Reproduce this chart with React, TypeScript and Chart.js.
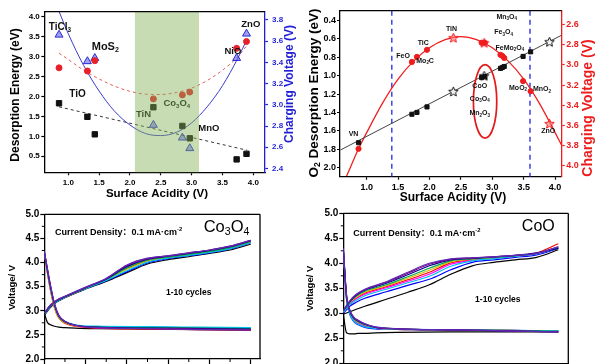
import React, { useEffect, useRef } from 'react';
import { Chart, registerables } from 'chart.js';

Chart.register(...registerables);

const FONT = '"Liberation Sans", Arial, "Noto Sans CJK SC", sans-serif';
Chart.defaults.font.family = FONT;

// ================= Panel A (top-left) =================
const A_ACIDITY = [0.85, 1.31, 1.43, 2.38, 2.85, 2.97, 3.73, 3.89];
const A_DES_BLACK = [1.83, 1.49, 1.05, 1.73, 1.26, 0.95, 0.42, 0.56];
const A_DES_RED = [2.72, 2.64, 2.9, 1.94, 2.04, 2.11, 3.21, 3.38];
const A_CHG_BLUE = [3.66, 3.41, 3.44, 2.81, 2.69, 2.59, 3.44, 3.67];
const A_FIT_X = [0.85, 1.0, 1.25, 1.5, 1.75, 2.0, 2.25, 2.5, 2.75, 3.0, 3.25, 3.5, 3.75, 3.9];
const A_FIT_BLUE = [3.88, 3.67, 3.37, 3.13, 2.94, 2.81, 2.73, 2.71, 2.74, 2.83, 2.98, 3.18, 3.44, 3.62];
const A_FIT_RED = [3.09, 2.93, 2.66, 2.44, 2.26, 2.13, 2.06, 2.05, 2.1, 2.21, 2.4, 2.66, 3.0, 3.29];
const A_LIN_X = [0.85, 3.9];
const A_LIN_BLACK = [1.74, 0.65];
const A_BAND = [2.08, 3.12];
const A_XTICKS = [1.0, 1.5, 2.0, 2.5, 3.0, 3.5, 4.0];
const A_YTICKS = [0.5, 1.0, 1.5, 2.0, 2.5, 3.0, 3.5, 4.0];
const A_Y2TICKS = [2.4, 2.6, 2.8, 3.0, 3.2, 3.4, 3.6, 3.8];
const A_LABEL_TEXT = ['TiCl_3', 'MoS_2', 'TiO', 'TiN', 'Co_3O_4', 'MnO', 'NiO', 'ZnO'];
const A_LABEL_X = [0.865, 1.6, 1.15, 2.22, 2.76, 3.28, 3.67, 3.96];
const A_LABEL_Y = [3.74, 3.25, 2.06, 1.55, 1.83, 1.2, 3.13, 3.8];

// ================= Panel B (top-right) =================
const B_ACIDITY = [0.87, 1.72, 1.8, 1.96, 2.83, 2.88, 3.13, 3.16, 3.19, 3.49, 3.61];
const B_O2_DES = [1.73, 1.42, 1.4, 1.34, 1.02, 1.01, 0.92, 0.91, 0.9, 0.79, 0.74];
const B_CHG_V = [3.83, 2.97, 2.92, 2.85, 2.78, 2.78, 2.9, 2.91, 2.93, 3.16, 3.26];
const B_STAR_X = [2.38, 2.87, 3.91];
const B_STAR_DES = [1.17, 1.0, 0.63];
const B_STAR_CHG = [2.73, 2.78, 3.58];
const B_LIN_X = [0.58, 4.1];
const B_LIN_DES = [1.81, 0.56];
const B_FIT_X = [0.68, 0.75, 0.87, 1.0, 1.25, 1.5, 1.75, 2.0, 2.25, 2.5, 2.75, 3.0, 3.25, 3.5, 3.75, 4.0, 4.1];
const B_FIT_CHG = [4.1, 4.0, 3.83, 3.67, 3.38, 3.14, 2.96, 2.83, 2.75, 2.72, 2.75, 2.83, 2.96, 3.14, 3.38, 3.67, 3.79];
const B_VLINES = [1.4, 3.6];
const B_ELLIPSE = { x: 2.885, y: 1.28, rx: 0.186, ry: 0.4 };
const B_XTICKS = [1.0, 1.5, 2.0, 2.5, 3.0, 3.5, 4.0];
const B_YTICKS = [0.4, 0.6, 0.8, 1.0, 1.2, 1.4, 1.6, 1.8, 2.0];
const B_Y2TICKS = [2.6, 2.8, 3.0, 3.2, 3.4, 3.6, 3.8, 4.0];
const B_LABEL_TEXT = ['TiN', 'TiC', 'FeO', 'Mo_2C', 'VN', 'CoO', 'Co_3O_4', 'Mn_2O_3', 'Mn_3O_4', 'Fe_3O_4', 'FeMo_2O_4', 'MoO_2', 'MnO_2', 'ZnO'];
const B_LABEL_X = [2.35, 1.9, 1.58, 1.93, 0.79, 2.8, 2.8, 2.8, 3.23, 3.18, 3.28, 3.41, 3.79, 3.89];
const B_LABEL_Y = [0.49, 0.64, 0.79, 0.84, 1.64, 1.11, 1.25, 1.41, 0.36, 0.53, 0.7, 1.13, 1.15, 1.6];

// ================= Panels C / D (bottom) =================
const CHG_X = [0, 3, 6, 10, 20, 30, 40, 50, 60, 70, 80, 90, 100];
const DIS_X = [0, 1.5, 3, 5, 7, 10, 15, 25, 50, 75, 100];
const CYC_XTICKS = [0, 20, 40, 60, 80, 100];
const CYC_XMINOR = [10, 30, 50, 70, 90];
const CYC_YTICKS = [2.0, 2.5, 3.0, 3.5, 4.0, 4.5, 5.0];
const CYC_YMINOR = [2.25, 2.75, 3.25, 3.75, 4.25, 4.75];

// Co3O4, cycles 1..10
const C_CHARGE = [
  [2.9, 3.07, 3.18, 3.27, 3.45, 3.61, 3.79, 3.97, 4.06, 4.12, 4.19, 4.26, 4.38],
  [2.93, 3.1, 3.2, 3.28, 3.47, 3.65, 3.88, 4.04, 4.11, 4.17, 4.23, 4.31, 4.43],
  [2.92, 3.09, 3.19, 3.28, 3.46, 3.62, 3.81, 3.99, 4.08, 4.14, 4.2, 4.28, 4.41],
  [2.94, 3.11, 3.21, 3.29, 3.47, 3.66, 3.91, 4.06, 4.12, 4.18, 4.24, 4.32, 4.44],
  [2.93, 3.1, 3.2, 3.28, 3.47, 3.64, 3.86, 4.03, 4.1, 4.16, 4.22, 4.3, 4.42],
  [2.92, 3.09, 3.19, 3.28, 3.46, 3.63, 3.83, 4.01, 4.09, 4.15, 4.21, 4.29, 4.41],
  [2.93, 3.1, 3.2, 3.29, 3.47, 3.65, 3.89, 4.05, 4.11, 4.17, 4.23, 4.31, 4.43],
  [2.94, 3.11, 3.21, 3.29, 3.48, 3.66, 3.92, 4.07, 4.13, 4.19, 4.25, 4.33, 4.45],
  [2.95, 3.12, 3.22, 3.3, 3.48, 3.67, 3.94, 4.08, 4.14, 4.2, 4.26, 4.34, 4.46],
  [2.95, 3.12, 3.22, 3.3, 3.49, 3.67, 3.95, 4.09, 4.14, 4.2, 4.26, 4.34, 4.46],
];
const C_DISCHARGE = [
  [2.95, 2.76, 2.71, 2.68, 2.66, 2.65, 2.64, 2.63, 2.62, 2.61, 2.6],
  [4.2, 3.78, 3.42, 3.05, 2.85, 2.74, 2.68, 2.64, 2.62, 2.61, 2.6],
  [4.21, 3.81, 3.46, 3.08, 2.87, 2.76, 2.7, 2.67, 2.66, 2.65, 2.64],
  [4.21, 3.82, 3.47, 3.09, 2.87, 2.76, 2.69, 2.65, 2.64, 2.63, 2.62],
  [4.21, 3.8, 3.44, 3.06, 2.85, 2.75, 2.69, 2.66, 2.64, 2.63, 2.62],
  [4.22, 3.83, 3.48, 3.1, 2.89, 2.78, 2.71, 2.68, 2.67, 2.66, 2.65],
  [4.22, 3.84, 3.49, 3.11, 2.88, 2.77, 2.7, 2.66, 2.65, 2.64, 2.63],
  [4.22, 3.85, 3.5, 3.12, 2.89, 2.77, 2.7, 2.66, 2.64, 2.63, 2.62],
  [4.23, 3.87, 3.52, 3.13, 2.9, 2.78, 2.7, 2.65, 2.63, 2.62, 2.61],
  [4.23, 3.88, 3.53, 3.14, 2.91, 2.78, 2.7, 2.65, 2.63, 2.61, 2.6],
];
// CoO, cycles 1..10
const D_CHARGE = [
  [2.98, 3.03, 3.08, 3.14, 3.28, 3.42, 3.57, 3.78, 3.95, 4.02, 4.07, 4.12, 4.27],
  [3.03, 3.2, 3.3, 3.4, 3.53, 3.67, 3.82, 4.01, 4.07, 4.11, 4.15, 4.21, 4.39],
  [3.0, 3.14, 3.22, 3.3, 3.43, 3.56, 3.68, 3.87, 4.02, 4.07, 4.12, 4.17, 4.3],
  [3.03, 3.19, 3.29, 3.38, 3.51, 3.64, 3.78, 3.98, 4.06, 4.1, 4.14, 4.19, 4.32],
  [3.04, 3.21, 3.32, 3.42, 3.55, 3.7, 3.86, 4.03, 4.08, 4.11, 4.15, 4.2, 4.31],
  [3.02, 3.17, 3.26, 3.35, 3.48, 3.61, 3.74, 3.94, 4.05, 4.09, 4.14, 4.19, 4.31],
  [3.04, 3.22, 3.34, 3.44, 3.57, 3.73, 3.9, 4.05, 4.09, 4.12, 4.15, 4.2, 4.31],
  [3.05, 3.23, 3.36, 3.46, 3.6, 3.77, 3.95, 4.07, 4.1, 4.13, 4.16, 4.21, 4.3],
  [3.05, 3.24, 3.37, 3.47, 3.62, 3.8, 3.98, 4.08, 4.11, 4.13, 4.16, 4.2, 4.33],
  [3.06, 3.25, 3.38, 3.48, 3.63, 3.82, 4.0, 4.09, 4.11, 4.13, 4.16, 4.2, 4.33],
];
const D_DISCHARGE = [
  [2.98, 2.61, 2.59, 2.59, 2.6, 2.6, 2.61, 2.62, 2.63, 2.63, 2.63],
  [4.27, 3.3, 3.0, 2.85, 2.79, 2.74, 2.7, 2.68, 2.67, 2.66, 2.64],
  [4.27, 3.28, 2.98, 2.83, 2.77, 2.72, 2.69, 2.68, 2.67, 2.66, 2.65],
  [4.28, 3.31, 3.01, 2.86, 2.8, 2.75, 2.7, 2.68, 2.67, 2.66, 2.64],
  [4.28, 3.32, 3.03, 2.88, 2.82, 2.77, 2.71, 2.68, 2.67, 2.66, 2.64],
  [4.28, 3.29, 2.99, 2.84, 2.78, 2.73, 2.7, 2.68, 2.67, 2.66, 2.65],
  [4.29, 3.33, 3.04, 2.89, 2.83, 2.77, 2.72, 2.69, 2.67, 2.66, 2.64],
  [4.29, 3.35, 3.05, 2.9, 2.84, 2.78, 2.72, 2.69, 2.67, 2.65, 2.63],
  [4.29, 3.36, 3.06, 2.91, 2.85, 2.79, 2.72, 2.69, 2.67, 2.65, 2.63],
  [4.3, 3.37, 3.07, 2.92, 2.86, 2.79, 2.73, 2.69, 2.67, 2.65, 2.63],
];

const CYCLE_COLORS = ['#000000', '#ff0000', '#0000ff', '#ff00ff', '#e6b800', '#00c0f0', '#00a850', '#00008b', '#8b008b', '#5b2bb5'];
const BLUE = '#1f1fd6';
const RED = '#ee1c1c';

// ---------- helpers ----------
function parseRich(s: string) {
  const out: { t: string; k: number }[] = [];
  let buf = '';
  let i = 0;
  while (i < s.length) {
    const c = s[i];
    if (c === '_' || c === '^') {
      if (buf) { out.push({ t: buf, k: 0 }); buf = ''; }
      let t: string;
      if (s[i + 1] === '{') { const j = s.indexOf('}', i + 2); t = s.slice(i + 2, j); i = j + 1; }
      else { t = s[i + 1]; i += 2; }
      out.push({ t, k: c === '_' ? 1 : -1 });
    } else { buf += c; i++; }
  }
  if (buf) out.push({ t: buf, k: 0 });
  return out;
}

function drawRich(ctx: CanvasRenderingContext2D, s: string, x: number, y: number, size: number, o: any = {}) {
  const segs = parseRich(s);
  const w = o.bold ? 'bold ' : '';
  const fontFor = (k: number) => `${w}${k === 0 ? size : size * 0.64}px ${FONT}`;
  let total = 0;
  for (const sg of segs) { ctx.font = fontFor(sg.k); total += ctx.measureText(sg.t).width; }
  ctx.save();
  ctx.translate(x, y);
  if (o.rot) ctx.rotate(o.rot);
  ctx.fillStyle = o.color || '#000';
  ctx.textBaseline = 'middle';
  ctx.textAlign = 'left';
  let cx = o.align === 'left' ? 0 : o.align === 'right' ? -total : -total / 2;
  for (const sg of segs) {
    ctx.font = fontFor(sg.k);
    const dy = sg.k === 1 ? size * 0.3 : sg.k === -1 ? -size * 0.36 : 0;
    ctx.fillText(sg.t, cx, dy);
    cx += ctx.measureText(sg.t).width;
  }
  ctx.restore();
}

function starImage(stroke: string, fill: string, r: number) {
  const size = Math.ceil(r * 2 + 3);
  const c = document.createElement('canvas');
  c.width = size; c.height = size;
  const g = c.getContext('2d')!;
  g.translate(size / 2, size / 2 + 0.5);
  g.beginPath();
  for (let i = 0; i < 10; i++) {
    const rad = i % 2 === 0 ? r : r * 0.45;
    const a = -Math.PI / 2 + (i * Math.PI) / 5;
    const px = Math.cos(a) * rad, py = Math.sin(a) * rad;
    if (i === 0) g.moveTo(px, py); else g.lineTo(px, py);
  }
  g.closePath();
  g.fillStyle = fill; g.fill();
  g.lineWidth = 1; g.strokeStyle = stroke; g.stroke();
  return c;
}

function lin(o: any) {
  const color = o.color || '#000';
  return {
    type: 'linear', position: o.pos, min: o.min, max: o.max, reverse: !!o.reverse,
    afterBuildTicks: (s: any) => { s.ticks = o.ticks.map((v: number) => ({ value: v })); },
    afterFit: (s: any) => { if (o.pos === 'bottom') s.height = o.fit; else s.width = o.fit; },
    ticks: {
      autoSkip: false, maxRotation: 0, minRotation: 0, padding: o.pad, color,
      font: { family: FONT, size: o.size, weight: 'bold' },
      callback: o.fmt || ((v: any) => Number(v).toFixed(1)),
    },
    grid: { display: true, drawOnChartArea: false, drawTicks: true, tickLength: o.tl, color, tickColor: color, tickWidth: 1.2 },
    border: { display: true, color, width: 1.3 },
    title: { display: false },
  };
}

function decoPlugin(d: any) {
  return {
    id: 'deco',
    beforeDatasetsDraw(chart: any) {
      const { ctx, chartArea: a, scales } = chart;
      if (d.vlines) {
        ctx.save();
        ctx.strokeStyle = d.vlineColor; ctx.lineWidth = 1.3; ctx.setLineDash([5, 4]);
        for (const v of d.vlines) {
          const px = scales.x.getPixelForValue(v);
          ctx.beginPath(); ctx.moveTo(px, a.top); ctx.lineTo(px, a.bottom); ctx.stroke();
        }
        ctx.restore();
      }
    },
    afterDatasetsDraw(chart: any) {
      const { ctx, chartArea: a, scales } = chart;
      if (d.ellipse) {
        const e = d.ellipse; const ys = scales[e.axis];
        const cx = scales.x.getPixelForValue(e.x), cy = ys.getPixelForValue(e.y);
        const rx = Math.abs(scales.x.getPixelForValue(e.x + e.rx) - cx);
        const ry = Math.abs(ys.getPixelForValue(e.y + e.ry) - cy);
        ctx.save(); ctx.strokeStyle = e.color; ctx.lineWidth = 1.7;
        ctx.beginPath(); ctx.ellipse(cx, cy, rx, ry, 0, 0, Math.PI * 2); ctx.stroke(); ctx.restore();
      }
      if (d.labels) {
        const L = d.labels; const ys = scales[L.axis];
        L.text.forEach((t: string, i: number) => {
          const size = L.sizes ? L.sizes[i] : L.size;
          drawRich(ctx, t, scales.x.getPixelForValue(L.x[i]), ys.getPixelForValue(L.y[i]), size, { bold: true, color: L.color });
        });
      }
      if (d.band) {
        const x0 = scales.x.getPixelForValue(d.band.from), x1 = scales.x.getPixelForValue(d.band.to);
        ctx.save(); ctx.fillStyle = d.band.color; ctx.fillRect(x0, a.top, x1 - x0, a.bottom - a.top); ctx.restore();
      }
      ctx.save();
      ctx.strokeStyle = '#000'; ctx.lineWidth = 1.3;
      if (d.frame && d.frame.top) { ctx.beginPath(); ctx.moveTo(a.left, a.top); ctx.lineTo(a.right, a.top); ctx.stroke(); }
      if (d.frame && d.frame.right) { ctx.beginPath(); ctx.moveTo(a.right, a.top); ctx.lineTo(a.right, a.bottom); ctx.stroke(); }
      ctx.lineWidth = 1;
      if (d.minor) {
        for (const m of d.minor) {
          const sc = scales[m.axis];
          for (const v of m.values) {
            const p = sc.getPixelForValue(v);
            ctx.beginPath();
            if (m.axis === 'x') { ctx.moveTo(p, a.bottom); ctx.lineTo(p, a.bottom + m.len); }
            else { ctx.moveTo(a.left, p); ctx.lineTo(a.left - m.len, p); }
            ctx.stroke();
          }
        }
      }
      ctx.restore();
      if (d.texts) {
        for (const t of d.texts) drawRich(ctx, t.s, t.x, t.y, t.size, t);
      }
    },
  };
}

const pts = (xs: number[], ys: number[]) => xs.map((x, i) => ({ x, y: ys[i] }));

const baseOptions = (padding: any) => ({
  responsive: false, animation: false, devicePixelRatio: 1, events: [],
  layout: { padding },
  plugins: { legend: { display: false }, tooltip: { enabled: false } },
});

// ---------- panel configs ----------
function makeA(): any {
  return {
    type: 'scatter',
    data: {
      datasets: [
        { data: pts(A_ACIDITY, A_DES_BLACK), yAxisID: 'y', pointStyle: 'rect', pointRadius: 3.8, backgroundColor: '#111', borderColor: '#111', order: 1 },
        { data: pts(A_ACIDITY, A_DES_RED), yAxisID: 'y', pointStyle: 'circle', pointRadius: 3, backgroundColor: '#e8202a', borderColor: '#e8202a', order: 1 },
        { data: pts(A_ACIDITY, A_CHG_BLUE), yAxisID: 'y1', pointStyle: 'triangle', pointRadius: 4.6, backgroundColor: 'rgba(80,80,235,0.55)', borderColor: '#2a2ad0', borderWidth: 1, order: 1 },
        { data: pts(A_FIT_X, A_FIT_BLUE), yAxisID: 'y1', showLine: true, pointRadius: 0, borderColor: '#3b3bd0', borderWidth: 1, cubicInterpolationMode: 'monotone', order: 5 },
        { data: pts(A_FIT_X, A_FIT_RED), yAxisID: 'y', showLine: true, pointRadius: 0, borderColor: '#e85a5a', borderWidth: 1, borderDash: [3, 3], cubicInterpolationMode: 'monotone', order: 5 },
        { data: pts(A_LIN_X, A_LIN_BLACK), yAxisID: 'y', showLine: true, pointRadius: 0, borderColor: '#333', borderWidth: 1, borderDash: [3, 3], order: 5 },
      ],
    },
    options: {
      ...baseOptions({ top: 11.7, left: 0, right: 0, bottom: 0 }),
      scales: {
        x: lin({ pos: 'bottom', min: 0.611, max: 4.19, ticks: A_XTICKS, fit: 32.7, size: 8, tl: 3, pad: 3 }),
        y: lin({ pos: 'left', min: 0.096, max: 4.13, ticks: A_YTICKS, fit: 44.3, size: 8, tl: 3, pad: 1.5 }),
        y1: lin({ pos: 'right', min: 2.364, max: 3.878, ticks: A_Y2TICKS, fit: 35, size: 8, tl: 3, pad: 4, color: BLUE }),
      },
    },
    plugins: [decoPlugin({
      labels: { text: A_LABEL_TEXT, x: A_LABEL_X, y: A_LABEL_Y, axis: 'y', size: 9.5, sizes: [10, 11, 10, 9.5, 9.5, 9.5, 9.5, 9.5], color: '#111' },
      band: { from: A_BAND[0], to: A_BAND[1], color: 'rgba(133,178,89,0.45)' },
      frame: { top: true },
      texts: [
        { s: 'Desorption Energy (eV)', x: 16, y: 95, size: 12, bold: true, rot: -Math.PI / 2 },
        { s: 'Charging Voltage (V)', x: 290, y: 84, size: 12, bold: true, color: BLUE, rot: -Math.PI / 2 },
        { s: 'Surface Acidity (V)', x: 157, y: 193.5, size: 11.5, bold: true },
      ],
    })],
  };
}

function makeB(): any {
  const blackStar = starImage('#111', 'rgba(255,255,255,0.85)', 5);
  const redStar = starImage('#ee1c1c', 'rgba(255,120,120,0.6)', 5);
  return {
    type: 'scatter',
    data: {
      datasets: [
        { data: pts(B_ACIDITY, B_O2_DES), yAxisID: 'y', pointStyle: 'rect', pointRadius: 2.9, backgroundColor: '#111', borderColor: '#111', order: 1 },
        { data: pts(B_STAR_X, B_STAR_DES), yAxisID: 'y', pointStyle: blackStar, pointRadius: 5, order: 1 },
        { data: pts(B_ACIDITY, B_CHG_V), yAxisID: 'y1', pointStyle: 'circle', pointRadius: 2.6, backgroundColor: RED, borderColor: RED, order: 1 },
        { data: pts(B_STAR_X, B_STAR_CHG), yAxisID: 'y1', pointStyle: redStar, pointRadius: 5, order: 1 },
        { data: pts(B_LIN_X, B_LIN_DES), yAxisID: 'y', showLine: true, pointRadius: 0, borderColor: '#444', borderWidth: 1, order: 5 },
        { data: pts(B_FIT_X, B_FIT_CHG), yAxisID: 'y1', showLine: true, pointRadius: 0, borderColor: '#f02020', borderWidth: 1.3, cubicInterpolationMode: 'monotone', order: 5 },
      ],
    },
    options: {
      ...baseOptions({ top: 10.7, left: 0, right: 0, bottom: 0 }),
      scales: {
        x: lin({ pos: 'bottom', min: 0.575, max: 4.105, ticks: B_XTICKS, fit: 28.3, size: 9, tl: 3, pad: 2 }),
        y: lin({ pos: 'left', min: 0.292, max: 2.1, reverse: true, ticks: B_YTICKS, fit: 40, size: 9, tl: 3, pad: 1 }),
        y1: lin({ pos: 'right', min: 2.463, max: 4.106, reverse: true, ticks: B_Y2TICKS, fit: 38.3, size: 9, tl: 3, pad: 1.5, color: RED }),
      },
    },
    plugins: [decoPlugin({
      vlines: B_VLINES, vlineColor: '#2525e0',
      ellipse: { ...B_ELLIPSE, axis: 'y', color: '#e41a1a' },
      labels: { text: B_LABEL_TEXT, x: B_LABEL_X, y: B_LABEL_Y, axis: 'y', size: 7, color: '#111' },
      frame: { top: true },
      texts: [
        { s: 'O_2 Desorption Energy (eV)', x: 14, y: 93, size: 13.5, bold: true, rot: -Math.PI / 2 },
        { s: 'Charging Voltage (V)', x: 288, y: 108, size: 14, bold: true, color: RED, rot: -Math.PI / 2 },
        { s: 'Surface Acidity (V)', x: 153, y: 197.5, size: 12, bold: true },
      ],
    })],
  };
}

function cycleDatasets(chg: number[][], dis: number[][]) {
  const ds: any[] = [];
  chg.forEach((ys, i) => ds.push({
    data: pts(CHG_X, ys), showLine: true, pointRadius: 0, borderColor: CYCLE_COLORS[i], borderWidth: 1.2,
    cubicInterpolationMode: 'monotone', order: 30 - i,
  }));
  dis.forEach((ys, i) => ds.push({
    data: pts(DIS_X, ys), showLine: true, pointRadius: 0, borderColor: CYCLE_COLORS[i], borderWidth: 1.2,
    cubicInterpolationMode: 'monotone', order: 15 - i,
  }));
  return ds;
}

function makeCycles(chg: number[][], dis: number[][], geo: any, texts: any[]): any {
  return {
    type: 'scatter',
    data: { datasets: cycleDatasets(chg, dis) },
    options: {
      ...baseOptions({ top: geo.top, left: 0, right: geo.right, bottom: 0 }),
      scales: {
        x: lin({ pos: 'bottom', min: 0, max: geo.xmax, ticks: CYC_XTICKS, fit: geo.xh, size: 10, tl: 5, pad: 2, fmt: (v: any) => String(v) }),
        y: lin({ pos: 'left', min: 2.0, max: 5.0, ticks: CYC_YTICKS, fit: geo.yw, size: 10, tl: 4, pad: 1 }),
      },
    },
    plugins: [decoPlugin({
      frame: { top: true, right: true },
      minor: [{ axis: 'x', values: CYC_XMINOR, len: 3 }, { axis: 'y', values: CYC_YMINOR, len: 2.5 }],
      texts,
    })],
  };
}

function makeC(): any {
  return makeCycles(C_CHARGE, C_DISCHARGE, { top: 14.3, right: 40, xmax: 104.5, xh: 41, yw: 44.3 }, [
    { s: 'Voltage/ V', x: 12, y: 87.5, size: 9.5, bold: true, rot: -Math.PI / 2 },
    { s: 'Current Density：0.1 mA·cm^{-2}', x: 55, y: 33, size: 9, bold: true, align: 'left' },
    { s: 'Co_3O_4', x: 226.5, y: 27, size: 16.5 },
    { s: '1-10 cycles', x: 188.7, y: 92.3, size: 8.5, bold: true },
  ]);
}

function makeD(): any {
  return makeCycles(D_CHARGE, D_DISCHARGE, { top: 13.3, right: 31.7, xmax: 104.65, xh: 36.7, yw: 43.3 }, [
    { s: 'Voltage/ V', x: 10.5, y: 88.3, size: 9.5, bold: true, rot: -Math.PI / 2 },
    { s: 'Current Density：0.1 mA·cm^{-2}', x: 53.3, y: 33.3, size: 9, bold: true, align: 'left' },
    { s: 'CoO', x: 238.3, y: 26.7, size: 16 },
    { s: '1-10 cycles', x: 197.8, y: 100, size: 8.5, bold: true },
  ]);
}

function Panel({ left, top, width, height, make }: { left: number; top: number; width: number; height: number; make: () => any }) {
  const ref = useRef<HTMLCanvasElement>(null);
  useEffect(() => {
    const chart = new Chart(ref.current as HTMLCanvasElement, make());
    return () => chart.destroy();
  }, []);
  return (
    <canvas ref={ref} width={width} height={height}
      style={{ position: 'absolute', left, top, width, height, display: 'block' }} />
  );
}

export default function App() {
  return (
    <div style={{ position: 'absolute', left: 0, top: 0, width: 600, height: 364, overflow: 'hidden', background: '#ffffff' }}>
      <Panel left={0} top={0} width={300} height={205} make={makeA} />
      <Panel left={300} top={0} width={300} height={205} make={makeB} />
      <Panel left={0} top={200} width={300} height={200} make={makeC} />
      <Panel left={300} top={200} width={300} height={200} make={makeD} />
    </div>
  );
}
